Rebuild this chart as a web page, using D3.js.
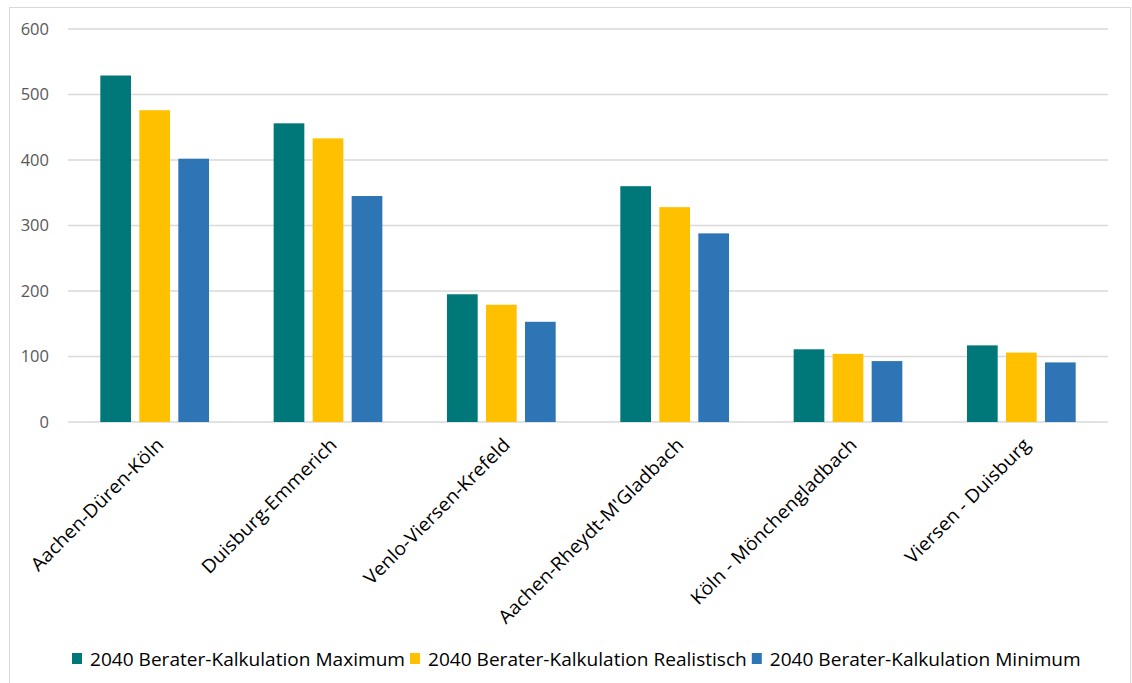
<!DOCTYPE html>
<html>
<head>
<meta charset="utf-8">
<script src="https://cdn.jsdelivr.net/npm/d3@7"></script>
<style>
  body { margin: 0; background: #fff; }
  svg text { font-family: "Open Sans", "Liberation Sans", sans-serif; }
</style>
</head>
<body>
<div id="chart"></div>
<script>
var categories = ["Aachen-Düren-Köln", "Duisburg-Emmerich", "Venlo-Viersen-Krefeld",
  "Aachen-Rheydt-M'Gladbach", "Köln - Mönchengladbach", "Viersen - Duisburg"];
var seriesNames = ["2040 Berater-Kalkulation Maximum", "2040 Berater-Kalkulation Realistisch",
  "2040 Berater-Kalkulation Minimum"];
var seriesColors = ["#00787A", "#FFC000", "#2E75B6"];
var maximum = [529, 456, 195, 360, 111, 117];
var realistisch = [476, 433, 179, 328, 104, 106];
var minimum = [402, 345, 153, 288, 93, 91];
var yTicks = [0, 100, 200, 300, 400, 500, 600];

var W = 1132, H = 683;
var plot = {left: 68, right: 1108, top: 29, bottom: 422};
var TEXT_STRETCH = 1.09; // reference text is a bit wider than Open Sans

var svg = d3.select("#chart").append("svg")
  .attr("width", W).attr("height", H);

// chart frame
svg.append("rect")
  .attr("x", 9.5).attr("y", 7.5)
  .attr("width", 1121).attr("height", 700)
  .attr("fill", "none").attr("stroke", "#d9d9d9").attr("stroke-width", 1);

var y = d3.scaleLinear().domain([0, 600]).range([plot.bottom, plot.top]);
var x0 = d3.scaleBand().domain(categories).range([plot.left, plot.right]).padding(0);
var x1 = d3.scaleBand().domain([0, 1, 2]).range([-54.35, 54.35]).paddingInner(0.213).paddingOuter(0);

// gridlines
svg.append("g").selectAll("line").data(yTicks).enter().append("line")
  .attr("x1", plot.left).attr("x2", plot.right)
  .attr("y1", function(d) { return y(d); })
  .attr("y2", function(d) { return y(d); })
  .attr("stroke", "#d9d9d9").attr("stroke-width", 1.3);

// y labels
svg.append("g").selectAll("text").data(yTicks).enter().append("text")
  .attr("x", 49)
  .attr("y", function(d) { return y(d); })
  .attr("dy", "0.36em")
  .attr("text-anchor", "end")
  .attr("fill", "#595959")
  .style("font-size", "16.5px")
  .text(function(d) { return d; });

var values = [maximum, realistisch, minimum];
var groups = svg.append("g").selectAll("g").data(categories).enter().append("g")
  .attr("transform", function(d) { return "translate(" + (x0(d) + x0.bandwidth() / 2) + ",0)"; });

groups.selectAll("rect")
  .data(function(d, i) { return values.map(function(s, k) { return {k: k, v: s[i]}; }); })
  .enter().append("rect")
  .attr("x", function(d) { return x1(d.k); })
  .attr("width", x1.bandwidth())
  .attr("y", function(d) { return y(d.v); })
  .attr("height", function(d) { return y(0) - y(d.v); })
  .attr("fill", function(d) { return seriesColors[d.k]; });

// category labels, rotated
svg.append("g").selectAll("text").data(categories).enter().append("text")
  .attr("transform", function(d) {
    return "translate(" + (x0(d) + x0.bandwidth() / 2 + 10) + "," + 446 + ") rotate(-45)";
  })
  .attr("text-anchor", "end")
  .attr("fill", "#000")
  .style("font-size", "18.5px")
  .text(function(d) { return d; })
  .each(function() {
    var len = this.getComputedTextLength();
    d3.select(this).attr("textLength", len * 1.06).attr("lengthAdjust", "spacingAndGlyphs");
  });

// legend
var legend = svg.append("g");
var lx = 72;
seriesNames.forEach(function(name, i) {
  legend.append("rect")
    .attr("x", lx).attr("y", 653)
    .attr("width", 10).attr("height", 11)
    .attr("fill", seriesColors[i]);
  var t = legend.append("text")
    .attr("x", lx + 18).attr("y", 666)
    .attr("fill", "#000")
    .style("font-size", "17.5px")
    .text(name);
  var len = t.node().getComputedTextLength() * TEXT_STRETCH;
  t.attr("textLength", len).attr("lengthAdjust", "spacingAndGlyphs");
  lx += 18 + len + 5;
});
</script>
</body>
</html>
